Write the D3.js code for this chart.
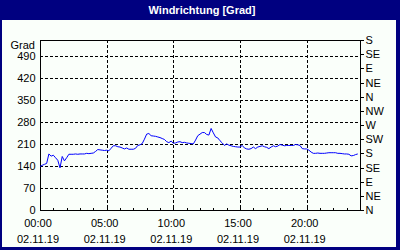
<!DOCTYPE html>
<html>
<head>
<meta charset="utf-8">
<script src="https://cdn.jsdelivr.net/npm/d3@7"></script>
<style>
  html, body { margin: 0; padding: 0; background: #000080; }
  svg { display: block; }
  text { font-family: 'Liberation Sans Narrow', 'Liberation Sans', Arial, sans-serif; font-size: 11px; fill: #000; }
</style>
</head>
<body>
<div id="chart"></div>
<script>
// Wind direction, 10-minute samples from 00:00 to 23:50 (one row per hour)
const values = [
  138, 142, 145, 148, 178, 171,
  174, 166, 158, 134, 170, 156,
  166, 177, 177, 177, 178, 177,
  178, 178, 178, 180, 179, 180,
  181, 186, 192, 191, 190, 189,
  190, 188, 196, 204, 204, 201,
  200, 197, 194, 197, 193, 193,
  193, 196, 205, 207, 211, 225,
  241, 243, 236, 235, 234, 232,
  230, 227, 224, 217, 214, 219,
  212, 213, 216, 217, 214, 215,
  213, 212, 211, 210, 222, 236,
  241, 246, 246, 240, 238, 259,
  245, 232, 229, 220, 213, 205,
  210, 206, 204, 202, 201, 200,
  200, 205, 197, 194, 193, 195,
  200, 195, 200, 202, 204, 201,
  199, 195, 200, 204, 201, 203,
  208, 206, 204, 205, 205, 205,
  205, 208, 207, 205, 195, 194,
  194, 190, 184, 180, 180, 181,
  180, 180, 180, 181, 182, 182,
  182, 182, 180, 180, 179, 178,
  178, 177, 172, 173, 176, 178
]
const gradTicks = [0, 70, 140, 210, 280, 350, 420, 490]
const compassTicks = [0, 45, 90, 135, 180, 225, 270, 315, 360, 405, 450, 495, 540]
const compassLabels = ['N', 'NE', 'E', 'SE', 'S', 'SW', 'W', 'NW', 'N', 'NE', 'E', 'SE', 'S']
const timeLabels = ['00:00', '05:00', '10:00', '15:00', '20:00']
const dateLabel = '02.11.19'
const title = 'Windrichtung [Grad]'
const unit = 'Grad'

const W = 400, H = 250
const start = new Date(2019, 10, 2, 0, 0)
const end = new Date(2019, 10, 3, 0, 0)
const stepMs = 10 * 60 * 1000
const data = values.map((v, i) => ({ t: new Date(+start + i * stepMs), v }))

const svg = d3.select('#chart').append('svg')
  .attr('width', W).attr('height', H)

// frame + title bar
svg.append('rect').attr('width', W).attr('height', H).attr('fill', '#000080')
svg.append('rect')
  .attr('x', 2).attr('y', 20).attr('width', W - 6).attr('height', H - 23)
  .attr('fill', '#fafffa')
svg.append('text')
  .attr('x', 202).attr('y', 14)
  .attr('text-anchor', 'middle')
  .style('font-family', "'Liberation Sans', Arial, sans-serif")
  .style('font-weight', 'bold')
  .style('font-size', '11px')
  .style('fill', '#fff')
  .text(title)

const x = d3.scaleTime().domain([start, end]).range([40, 360])
const y = d3.scaleLinear().domain([0, 540]).range([210, 40])

const g = svg.append('g')

// grid
const px = v => Math.round(v) + 0.5
g.selectAll('.hgrid').data(gradTicks.slice(1)).join('line')
  .attr('x1', 40).attr('x2', 360)
  .attr('y1', d => px(y(d))).attr('y2', d => px(y(d)))
  .attr('stroke', '#000').attr('stroke-dasharray', '3,2')
  .attr('shape-rendering', 'crispEdges')

const majorHours = timeLabels.map(s => new Date(+start + parseInt(s) * 3600000))
g.selectAll('.vgrid').data(majorHours.slice(1)).join('line')
  .attr('x1', d => px(x(d))).attr('x2', d => px(x(d)))
  .attr('y1', 40).attr('y2', 210)
  .attr('stroke', '#000').attr('stroke-dasharray', '3,2')
  .attr('shape-rendering', 'crispEdges')

// axes
const left = g.append('g').attr('transform', 'translate(40.5,0)')
  .call(d3.axisLeft(y).tickValues(gradTicks).tickSize(0).tickPadding(5))
left.select('.domain').remove()
left.selectAll('text').attr('fill', '#000').style('font-size', '11px').style('font-family', null)

g.append('text')
  .attr('x', 35).attr('y', 45).attr('dy', '0.35em')
  .attr('text-anchor', 'end')
  .text(unit)

const right = g.append('g').attr('transform', 'translate(360.5,0)')
  .call(d3.axisRight(y).tickValues(compassTicks)
    .tickFormat((d, i) => compassLabels[i]).tickSize(3).tickPadding(2))
right.select('.domain').remove()
right.selectAll('line').attr('stroke', '#000').attr('shape-rendering', 'crispEdges')
right.selectAll('text').attr('fill', '#000').style('font-size', '11px').style('font-family', null)

const bottom = g.append('g').attr('transform', 'translate(0,210.5)')
  .call(d3.axisBottom(x).ticks(d3.timeHour.every(1)).tickSize(-3).tickFormat(''))
bottom.select('.domain').remove()
bottom.selectAll('line').attr('stroke', '#000').attr('shape-rendering', 'crispEdges')

// plot border
g.append('rect')
  .attr('x', 40.5).attr('y', 40.5).attr('width', 320).attr('height', 170)
  .attr('fill', 'none').attr('stroke', '#000')
  .attr('shape-rendering', 'crispEdges')

// time / date labels
const lab = g.selectAll('.xlab').data(majorHours).join('g')
  .attr('transform', d => `translate(${x(d) - 2},0)`)
lab.append('text').attr('y', 223).attr('dy', '0.35em')
  .attr('text-anchor', 'middle').text((d, i) => timeLabels[i])
lab.append('text').attr('y', 239).attr('dy', '0.35em')
  .attr('text-anchor', 'middle').text(dateLabel)

// series
g.append('path').datum(data)
  .attr('fill', 'none').attr('stroke', '#0000ff').attr('stroke-width', 1)
  .attr('d', d3.line().x(d => x(d.t)).y(d => y(d.v)))
</script>
</body>
</html>
